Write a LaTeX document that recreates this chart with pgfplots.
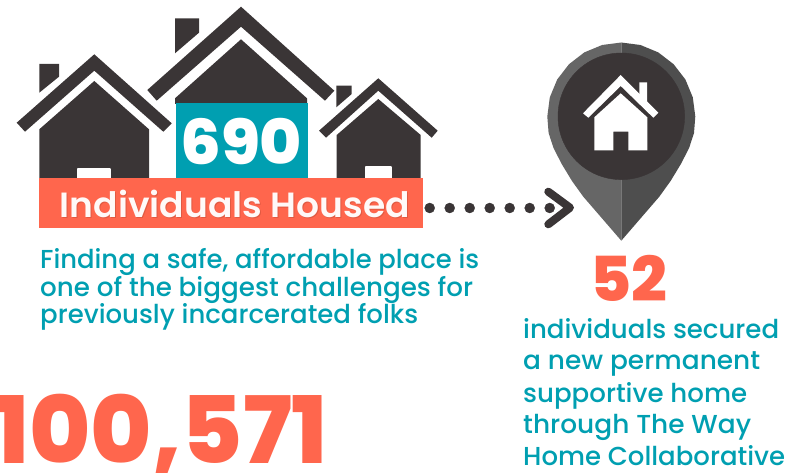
\documentclass[border=0pt]{standalone}
\usepackage{pgfplots}
\pgfplotsset{compat=1.18}
\usepackage{graphicx}
\usepackage{fontspec}
\setmainfont{Poppins}
\newfontfamily\medfont{Poppins Medium}
\newfontfamily\semifont{Poppins SemiBold}
\newfontfamily\xfont{Poppins ExtraBold}
\definecolor{dark}{HTML}{3A3536}
\definecolor{teal}{HTML}{009FB1}
\definecolor{coral}{HTML}{FF664D}
\definecolor{pinl}{HTML}{666666}
\definecolor{pinr}{HTML}{4E4E4E}
\definecolor{shade}{HTML}{E05A42}
% filled outline in picture pixels
\newcommand\shape[2]{\addplot[draw=none,fill=#1] coordinates {#2} -- cycle;}
% text fitted to a measured width: x, baseline y, width, size, colour, font, text
\newcommand\txt[7]{\node[anchor=base west,inner sep=0pt,text=#5] at (axis cs:#1,#2)
  {\resizebox{#3pt}{\height}{\fontsize{#4}{#4}\selectfont#6\relax#7}};}
\begin{document}
\begin{tikzpicture}
\path[use as bounding box,clip] (0,0) rectangle (787pt,473pt);
\begin{axis}[
  hide axis,
  scale only axis,
  width=787pt,
  height=473pt,
  xmin=0,xmax=787,
  ymin=0,ymax=473,
  y dir=reverse,
  clip mode=individual,
  clip=false,
]
% left house
\shape{dark}{(39.3,64) (59,64) (59,76.7) (39.3,92.7)}
\shape{dark}{(94.3,54.3) (171.7,123.3) (163.3,131.7) (94.3,70.7) (25,131.7) (16.7,122.7)}
\shape{dark}{(39.3,129.3) (94.3,81) (149,129.3) (149,178) (39.3,178)}
\addplot[fill=white,draw=white,line width=2pt,line join=round] coordinates {(78.3,169) (110.3,169) (110.3,178) (78.3,178)} -- cycle;
% middle house
\shape{dark}{(175,18.3) (199,18.3) (199,32.7) (175,53.3)}
\shape{dark}{(241,6.7) (334.3,90.7) (325,100.7) (241,26.7) (156.7,100.7) (147.3,90)}
\shape{dark}{(175,98.3) (241,39.3) (307,98.3) (307,104) (175,104)}
\shape{teal}{(175.7,103.3) (307.7,103.3) (307.7,178) (175.7,178)}
% right house
\shape{dark}{(336.3,85.7) (351.7,85.7) (351.7,94) (336.3,107.3)}
\shape{dark}{(378.3,78.3) (437.7,130.7) (431.7,137.7) (378.3,90.7) (326,137.7) (319,130.7)}
\shape{dark}{(336.7,135) (378.3,99) (420.7,135) (420.7,178) (336.7,178)}
\addplot[fill=white,draw=white,line width=2pt,line join=round] coordinates {(366.3,166.7) (390.7,166.7) (390.7,178) (366.3,178)} -- cycle;
% banner
\shape{coral}{(39,178) (423,178) (423,228) (39,228)}
% dotted arrow
\addplot[only marks,mark=*,mark size=5pt,color=dark] coordinates {(429.7,208) (449.7,208) (469.7,208) (489.7,208) (509.7,208) (529.7,208) (549.7,208)};
\addplot[dark,line width=8pt,line cap=round,line join=round] coordinates {(548.3,191.7) (570,207.7) (548.3,224.3)};
% pin
\shape{pinl}{(621.3,42.5) (602.15,45) (584.3,52.4) (569,64.2) (557.2,79.5) (549.8,97.35) (547.3,116.5) (548.6,133) (553.5,148) (561.7,164) (572,181) (583.3,196.7) (601.7,218) (621.3,240.7)}
\shape{pinr}{(621.3,42.5) (640.45,45) (658.3,52.4) (673.6,64.2) (685.4,79.5) (692.8,97.35) (695.3,116.5) (694,133) (689.1,148) (680.9,164) (670.6,181) (659.3,196.7) (640.9,218) (621.3,240.7)}
\addplot[only marks,mark=*,mark size=63.3pt,color=dark] coordinates {(621.3,116.3)};
\shape{white}{(639.3,82.3) (647,82.3) (647,102) (639.3,94.7)}
\shape{white}{(620.7,75) (658.3,112.7) (653.3,117.7) (620.7,86) (588.3,117.7) (583,113.3)}
\shape{white}{(594.3,117.3) (620.7,93.3) (647.3,117.3) (647.3,150.3) (628.3,150.3) (628.3,131.7) (613.3,131.7) (613.3,150.3) (594.3,150.3)}
% text
\txt{180}{165}{122}{62}{white}{\xfont}{690}
\txt{60.7}{218.7}{350}{35}{shade}{\semifont}{Individuals Housed}
\txt{59.7}{218}{350}{35}{white!96!coral}{\semifont}{Individuals Housed}
\txt{40}{268}{439}{26}{teal}{\medfont}{Finding a safe, affordable place is}
\txt{40}{296.5}{433}{26}{teal}{\medfont}{one of the biggest challenges for}
\txt{40}{323.5}{378}{26}{teal}{\medfont}{previously incarcerated folks}
\txt{590}{301.7}{77}{62}{coral}{\xfont}{52}
\txt{-7}{463}{335}{93}{coral}{\xfont}{100,571}
\txt{523}{338}{256}{26}{teal}{\medfont}{individuals secured}
\txt{523}{369.5}{237}{26}{teal}{\medfont}{a new permanent}
\txt{523}{402}{224}{26}{teal}{\medfont}{supportive home}
\txt{523}{433}{228}{26}{teal}{\medfont}{through The Way}
\txt{523}{465.5}{262}{26}{teal}{\medfont}{Home Collaborative}
\end{axis}
\end{tikzpicture}
\end{document}
